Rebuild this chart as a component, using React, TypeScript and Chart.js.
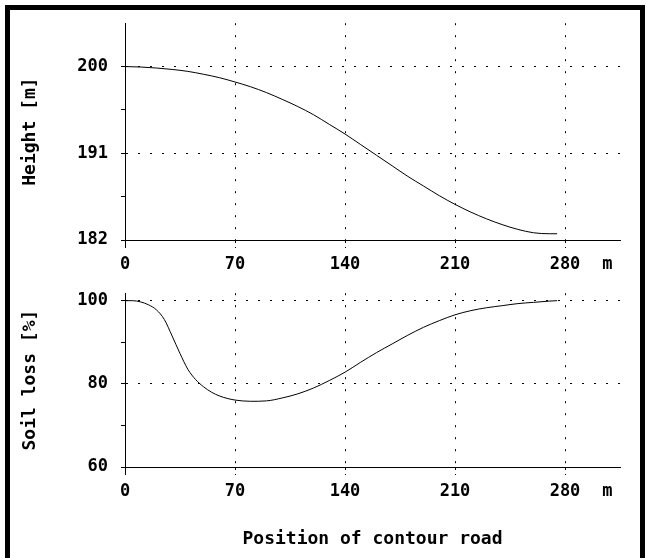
import React, { useEffect, useRef } from 'react';
import { Chart, registerables } from 'chart.js';

Chart.register(...registerables);

// ---- data ----
const positionTicks = [0, 70, 140, 210, 280];
const positionMax = 315;
const unitLabel = 'm';
const unitLabelPosition = 307;
const xTitle = 'Position of contour road';

const heightTitle = 'Height [m]';
const heightTicks = [182, 191, 200];
const heightMinorTicks = [186.5, 195.5];
const heightMin = 182;
const heightMax = 204.5;
const heightPositions = [0, 10, 20, 30, 40, 50, 60, 70, 80, 90, 100, 110, 120, 130, 140, 150, 160, 170, 180, 190, 200, 210, 220, 230, 240, 250, 260, 270, 275];
const heightValues = [200, 199.95, 199.85, 199.7, 199.5, 199.2, 198.85, 198.4, 197.9, 197.3, 196.6, 195.85, 195.0, 194.0, 193.0, 191.9, 190.8, 189.7, 188.6, 187.6, 186.6, 185.7, 184.9, 184.2, 183.6, 183.1, 182.75, 182.65, 182.65];

const soilTitle = 'Soil loss [%]';
const soilTicks = [60, 80, 100];
const soilMinorTicks = [70, 90];
const soilMin = 60;
const soilMax = 101.8;
const soilPositions = [0, 5, 10, 15, 20, 25, 30, 35, 40, 45, 50, 55, 60, 65, 70, 80, 90, 100, 110, 120, 130, 140, 150, 160, 170, 180, 190, 200, 210, 220, 230, 240, 250, 260, 270, 275];
const soilValues = [100, 100, 99.7, 99.0, 97.8, 95.5, 91.5, 87.3, 83.5, 81.0, 79.3, 78.0, 77.1, 76.5, 76.1, 75.8, 75.9, 76.6, 77.6, 79.0, 80.8, 82.8, 85.2, 87.5, 89.6, 91.7, 93.6, 95.2, 96.6, 97.6, 98.3, 98.8, 99.3, 99.6, 99.9, 100];

// ---- style ----
const FONT = '"DejaVu Sans Mono", "Liberation Mono", monospace';
const tickFont = { family: FONT, size: 17, weight: 'bold' as const };
const titleFont = { family: FONT, size: 18, weight: 'bold' as const };
const DOT = [2, 10];
const X_TICK_LEN = 8;
const X_TICK_PAD = 6;

const unitPlugin = {
  id: 'unitLabel',
  afterDraw(chart: any) {
    const xs = chart.scales.x;
    const ctx = chart.ctx;
    ctx.save();
    ctx.font = `bold ${tickFont.size}px ${FONT}`;
    ctx.fillStyle = '#000';
    ctx.textAlign = 'center';
    ctx.textBaseline = 'middle';
    ctx.fillText(unitLabel, xs.getPixelForValue(unitLabelPosition), xs.top + X_TICK_LEN + X_TICK_PAD + (tickFont.size * 1.2) / 2);
    ctx.restore();
  },
};

type Cfg = {
  positions: number[];
  values: number[];
  yTicks: number[];
  yMinor: number[];
  yMin: number;
  yMax: number;
  yTitle: string;
  padTop: number;
  xHeight: number;
  showXTitle: boolean;
};

function makeConfig(c: Cfg): any {
  const data = c.positions.map((p, i) => ({ x: p, y: c.values[i] }));
  return {
    type: 'line',
    data: {
      datasets: [
        {
          data,
          borderColor: '#000',
          borderWidth: 1,
          pointRadius: 0,
          fill: false,
          cubicInterpolationMode: 'monotone',
        },
      ],
    },
    plugins: [unitPlugin],
    options: {
      animation: false,
      responsive: false,
      devicePixelRatio: 1,
      layout: { padding: { left: 0, right: 27, top: c.padTop, bottom: 0 } },
      plugins: { legend: { display: false }, tooltip: { enabled: false } },
      scales: {
        x: {
          type: 'linear',
          min: 0,
          max: positionMax,
          afterBuildTicks: (s: any) => {
            s.ticks = positionTicks.map((v) => ({ value: v }));
          },
          afterFit: (s: any) => {
            s.height = c.xHeight;
          },
          ticks: {
            color: '#000',
            font: tickFont,
            padding: X_TICK_PAD,
            maxRotation: 0,
            autoSkip: false,
            callback: (v: any) => String(v),
          },
          grid: {
            color: (ctx: any) => (ctx.tick && ctx.tick.value === 0 ? 'rgba(0,0,0,0)' : '#000'),
            lineWidth: 1,
            drawTicks: true,
            tickLength: X_TICK_LEN,
            tickColor: '#000',
            tickWidth: 1,
            tickBorderDash: (ctx: any) => (ctx.tick && ctx.tick.value === 0 ? [] : [2, 4]),
          },
          border: { display: true, color: '#000', width: 1, dash: DOT, dashOffset: 0 },
          title: {
            display: c.showXTitle,
            text: xTitle,
            color: '#000',
            font: titleFont,
            padding: { top: 0, bottom: 8 },
          },
        },
        y: {
          type: 'linear',
          min: c.yMin,
          max: c.yMax,
          afterBuildTicks: (s: any) => {
            s.ticks = [...c.yTicks, ...c.yMinor].sort((a, b) => a - b).map((v) => ({ value: v }));
          },
          afterFit: (s: any) => {
            s.width = 125;
          },
          ticks: {
            color: '#000',
            font: tickFont,
            padding: 13,
            autoSkip: false,
            callback: (v: any) => (c.yTicks.includes(v) ? String(v) : ''),
          },
          grid: {
            color: (ctx: any) => {
              const v = ctx.tick ? ctx.tick.value : null;
              if (v === null || v === c.yMin || c.yMinor.includes(v)) return 'rgba(0,0,0,0)';
              return '#000';
            },
            lineWidth: 1,
            drawTicks: true,
            tickLength: 4,
            tickColor: '#000',
            tickWidth: 1,
          },
          border: { display: true, color: '#000', width: 1, dash: DOT, dashOffset: 0 },
          title: {
            display: true,
            text: c.yTitle,
            color: '#000',
            font: titleFont,
            padding: { top: 20, bottom: 0 },
          },
        },
      },
    },
  };
}

export default function App() {
  const topRef = useRef<HTMLCanvasElement | null>(null);
  const botRef = useRef<HTMLCanvasElement | null>(null);

  useEffect(() => {
    const top = new Chart(
      topRef.current as HTMLCanvasElement,
      makeConfig({
        positions: heightPositions,
        values: heightValues,
        yTicks: heightTicks,
        yMinor: heightMinorTicks,
        yMin: heightMin,
        yMax: heightMax,
        yTitle: heightTitle,
        padTop: 21,
        xHeight: 40,
        showXTitle: false,
      })
    );
    const bot = new Chart(
      botRef.current as HTMLCanvasElement,
      makeConfig({
        positions: soilPositions,
        values: soilValues,
        yTicks: soilTicks,
        yMinor: soilMinorTicks,
        yMin: soilMin,
        yMax: soilMax,
        yTitle: soilTitle,
        padTop: 15,
        xHeight: 91,
        showXTitle: true,
      })
    );
    return () => {
      top.destroy();
      bot.destroy();
    };
  }, []);

  return (
    <div
      style={{
        position: 'fixed',
        left: 0,
        top: 0,
        width: 647,
        height: 558,
        overflow: 'hidden',
        background: '#fff',
      }}
    >
      <div
        style={{
          position: 'absolute',
          left: 5,
          top: 5,
          width: 630,
          height: 600,
          borderLeft: '5px solid #000',
          borderTop: '5px solid #000',
          borderRight: '5px solid #000',
        }}
      />
      <canvas
        ref={topRef}
        width={647}
        height={280}
        style={{ position: 'absolute', left: 0, top: 0, width: 647, height: 280 }}
      />
      <canvas
        ref={botRef}
        width={647}
        height={288}
        style={{ position: 'absolute', left: 0, top: 270, width: 647, height: 288 }}
      />
    </div>
  );
}
